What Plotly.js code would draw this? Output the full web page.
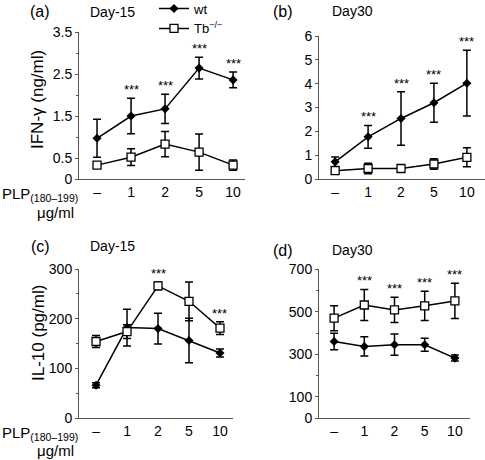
<!DOCTYPE html>
<html><head><meta charset="utf-8">
<script src="https://cdn.plot.ly/plotly-3.0.1.min.js"></script>
<style>html,body{margin:0;padding:0;background:#fff}#chart{width:485px;height:460px}</style>
</head><body><div id="chart"></div>
<script>
const cats = ['–','1','2','5','10'];

// (a) IFN-γ Day-15
const aWt = [0.97, 1.50, 1.67, 2.64, 2.36];
const aWtErr = [0.45, 0.42, 0.35, 0.26, 0.19];
const aTb = [0.33, 0.52, 0.83, 0.64, 0.33];
const aTbErr = [0.06, 0.20, 0.30, 0.43, 0.12];
const aSig = ['', '***', '***', '***', '***'];

// (b) IFN-γ Day30
const bWt = [0.72, 1.77, 2.54, 3.20, 4.02];
const bWtErr = [0.20, 0.48, 1.12, 0.82, 1.38];
const bTb = [0.35, 0.44, 0.44, 0.63, 0.91];
const bTbErr = [0.10, 0.22, 0.12, 0.22, 0.40];
const bSig = ['', '***', '***', '***', '***'];

// (c) IL-10 Day-15
const cWt = [66, 182, 180, 156, 131];
const cWtErr = [5, 37, 31, 45, 8];
const cTb = [154, 174, 266, 235, 181];
const cTbErr = [12, 14, 8, 39, 13];
const cSig = ['', '', '***', '', '***'];

// (d) IL-10 Day30
const dWt = [360, 337, 345, 345, 282];
const dWtErr = [39, 45, 50, 31, 14];
const dTb = [470, 532, 509, 528, 551];
const dTbErr = [59, 73, 59, 69, 83];
const dSig = ['', '***', '***', '***', '***'];

const FONT = 'Liberation Sans, Arial, Helvetica, sans-serif';
const AX = '#555';

function wtTrace(y, e, xa, ya, show) {
  return {x: cats, y: y, xaxis: xa, yaxis: ya, type: 'scatter', mode: 'lines+markers',
    name: 'wt', showlegend: show,
    line: {color: 'black', width: 1.5},
    marker: {symbol: 'diamond', size: 7, color: 'black'},
    error_y: {type: 'data', array: e, visible: true, color: 'black', thickness: 1.5, width: 4}};
}
function tbTrace(y, e, xa, ya, show) {
  return {x: cats, y: y, xaxis: xa, yaxis: ya, type: 'scatter', mode: 'lines+markers',
    name: 'Tb<sup>−/−</sup>', showlegend: show,
    line: {color: 'black', width: 1.5},
    marker: {symbol: 'square', size: 8, color: 'white', line: {color: 'black', width: 1.3}},
    error_y: {type: 'data', array: e, visible: true, color: 'black', thickness: 1.5, width: 4}};
}

const data = [
  wtTrace(aWt, aWtErr, 'x', 'y', true), tbTrace(aTb, aTbErr, 'x', 'y', true),
  wtTrace(bWt, bWtErr, 'x2', 'y2', false), tbTrace(bTb, bTbErr, 'x2', 'y2', false),
  wtTrace(cWt, cWtErr, 'x3', 'y3', false), tbTrace(cTb, cTbErr, 'x3', 'y3', false),
  wtTrace(dWt, dWtErr, 'x4', 'y4', false), tbTrace(dTb, dTbErr, 'x4', 'y4', false)
];

const annotations = [];
function stars(sig, vals, errs, xa, ya) {
  sig.forEach((s, i) => {
    if (!s) return;
    // category axes: use the category index as position
    annotations.push({x: i, y: vals[i] + errs[i], xref: xa, yref: ya, text: s,
      showarrow: false, yanchor: 'bottom', yshift: -1, font: {size: 13, family: FONT, color: 'black'}});
  });
}
stars(aSig, aWt, aWtErr, 'x', 'y');
stars(bSig, bWt, bWtErr, 'x2', 'y2');
stars(cSig, cTb, cTbErr, 'x3', 'y3');
stars(dSig, dTb, dTbErr, 'x4', 'y4');

function txt(xpx, ypx, t, size, anchor, angle) {
  annotations.push({x: xpx / 485, y: 1 - ypx / 460, xref: 'paper', yref: 'paper', text: t,
    showarrow: false, xanchor: anchor || 'center', yanchor: 'middle', textangle: angle || 0,
    font: {size: size, family: FONT, color: 'black'}});
}
txt(40, 12, '(a)', 16); txt(112, 12, 'Day-15', 14);
txt(283, 12, '(b)', 16); txt(352, 11, 'Day30', 14);
txt(40, 246, '(c)', 16); txt(112, 246, 'Day-15', 14);
txt(283, 251, '(d)', 16); txt(352, 250, 'Day30', 14);
txt(0, 194, 'PLP<sub>(180–199)</sub>', 15, 'left');
txt(55, 212, 'μg/ml', 15);
txt(0, 433, 'PLP<sub>(180–199)</sub>', 15, 'left');
txt(55, 450, 'μg/ml', 15);
// y-axis titles
txt(38, 100, 'IFN-γ (ng/ml)', 17, 'center', -90);
txt(38, 333, 'IL-10 (pg/ml)', 17, 'center', -90);

function xax(dom, rng, anchor) {
  return {domain: dom, range: rng, anchor: anchor, type: 'category', showline: true, linecolor: AX,
    linewidth: 1, ticks: '', showgrid: false, zeroline: false, fixedrange: true,
    tickfont: {size: 14, family: FONT, color: 'black'}};
}
function yax(dom, rng, anchor, extra) {
  return Object.assign({domain: dom, range: rng, anchor: anchor, showline: true, linecolor: AX,
    linewidth: 1, ticks: 'outside', ticklen: 3, tickcolor: AX, showgrid: false, zeroline: false,
    tickfont: {size: 14, family: FONT, color: 'black'}}, extra);
}

const layout = {
  width: 485, height: 460, margin: {l: 0, r: 0, t: 0, b: 0, autoexpand: false},
  paper_bgcolor: 'white', plot_bgcolor: 'white',
  font: {family: FONT, color: 'black'},
  showlegend: true,
  legend: {x: 154 / 485, y: 1.014, xanchor: 'left', yanchor: 'top', bgcolor: 'rgba(0,0,0,0)',
    font: {size: 13, family: FONT}, tracegroupgap: 0, itemwidth: 30, traceorder: 'normal'},
  xaxis: xax([79 / 485, 245 / 485], [-0.53, 4.35], 'y'),
  yaxis: yax([1 - 179 / 460, 1 - 32 / 460], [0, 3.5], 'x', {
    tickmode: 'array', tickvals: [0, 0.5, 1.5, 2.5, 3.5],
    minor: {tickmode: 'array', tickvals: [1, 2, 3], ticks: 'outside', ticklen: 2, tickcolor: AX}}),
  xaxis2: xax([319 / 485, 1], [-0.49, 4.55], 'y2'),
  yaxis2: yax([1 - 179 / 460, 1 - 36 / 460], [0, 6], 'x2', {tickmode: 'linear', tick0: 0, dtick: 1}),
  xaxis3: xax([79 / 485, 233 / 485], [-0.55, 4.42], 'y3'),
  yaxis3: yax([1 - 418 / 460, 1 - 269 / 460], [0, 300], 'x3', {
    tickmode: 'linear', tick0: 0, dtick: 100,
    minor: {dtick: 50, ticks: 'outside', ticklen: 2, tickcolor: AX}}),
  xaxis4: xax([319 / 485, 470 / 485], [-0.5, 4.5], 'y4'),
  yaxis4: yax([1 - 418 / 460, 1 - 269.3 / 460], [0, 700], 'x4', {
    tickmode: 'array', tickvals: [0, 100, 300, 500, 700],
    minor: {tickmode: 'array', tickvals: [200, 400, 600], ticks: 'outside', ticklen: 2, tickcolor: AX}}),
  annotations: annotations
};

Plotly.newPlot('chart', data, layout, {staticPlot: true, displayModeBar: false});
</script></body></html>
